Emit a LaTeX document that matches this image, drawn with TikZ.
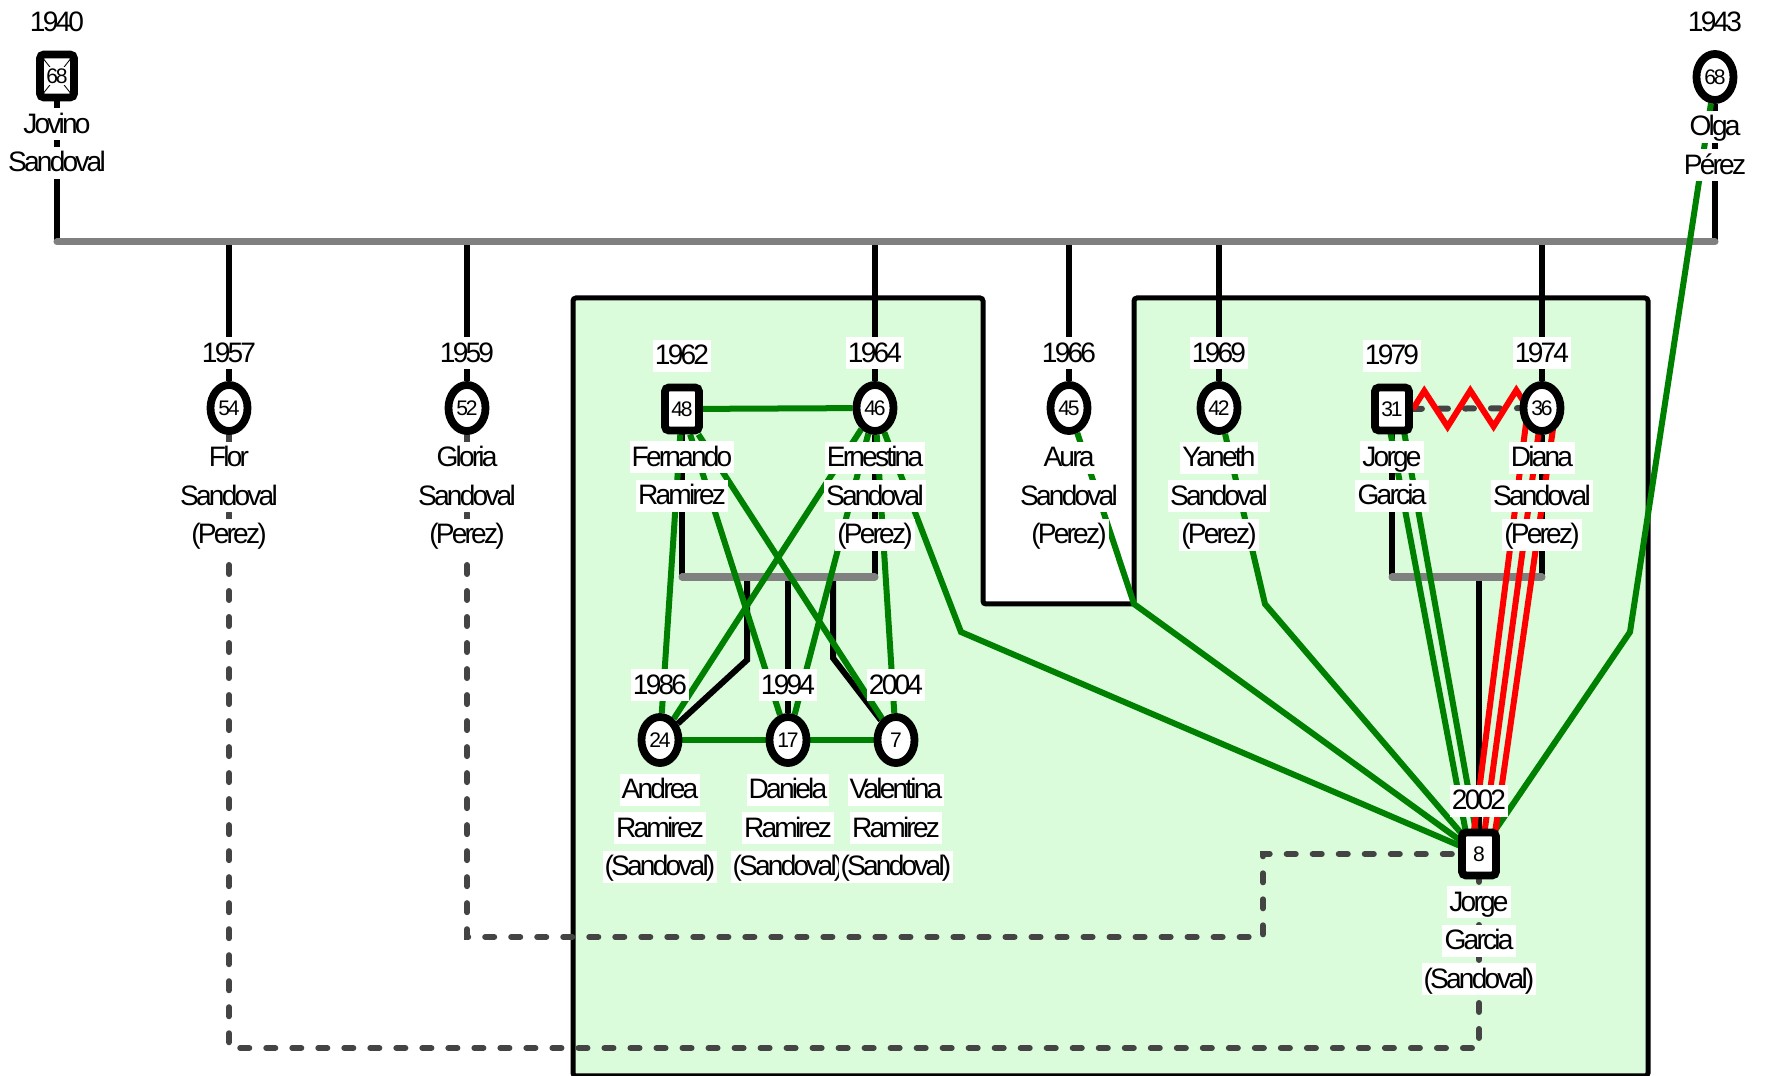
\documentclass[tikz,border=0pt]{standalone}
\usepackage{fontspec}
\setmainfont{Liberation Sans}[LetterSpace=-10]
\usetikzlibrary{positioning, shapes.geometric, decorations.pathmorphing}

\definecolor{famgreen}{RGB}{0,128,0}
\definecolor{household}{RGB}{218,252,218}
\definecolor{bargray}{RGB}{128,128,128}
\definecolor{fargray}{RGB}{68,68,68}

\pgfdeclarelayer{back}
\pgfdeclarelayer{links}
\pgfsetlayers{back,links,main}

% white strip behind one line of text
\newcommand{\wb}[1]{{\setlength{\fboxsep}{0pt}\colorbox{white}{\rule[-0.25em]{0pt}{1.15em}\hspace{0.6pt}#1\hspace{0.6pt}}}}
\newcommand{\nb}[1]{{\setlength{\fboxsep}{0.5pt}\colorbox{white}{#1}}}

\begin{document}
\begin{tikzpicture}[x=0.01cm, y=-0.01cm,
    male/.style={
        rectangle, draw, fill=white, line width=0.78mm, rounded corners=0.4mm,
        minimum width=3.4mm, minimum height=4.3mm, inner sep=0pt,
        font=\fontsize{6}{6.5}\selectfont
    },
    female/.style={
        ellipse, draw, fill=white, line width=0.78mm,
        minimum width=3.7mm, minimum height=4.6mm, inner sep=0pt,
        font=\fontsize{6}{6.5}\selectfont
    },
    dead/.style={path picture={
        \draw[line width=0.25pt] (path picture bounding box.north west) -- (path picture bounding box.south east)
            (path picture bounding box.north east) -- (path picture bounding box.south west);}},
    year/.style={fill=white, inner xsep=0.6pt, inner ysep=0pt, text height=7.2pt, text depth=2pt,
        font=\fontsize{8}{10.95}\selectfont},
    nametag/.style={inner sep=0pt, align=center, font=\fontsize{8}{10.95}\selectfont},
    tie/.style={line width=0.6mm},
    bar/.style={draw=bargray, line width=0.7mm, line cap=round},
    bond/.style={draw=famgreen, line width=0.6mm},
    hostile/.style={draw=red, line width=0.6mm},
    distant/.style={draw=fargray, line width=0.6mm, dash pattern=on 0.9mm off 1.7mm, line cap=round},
    home/.style={draw, fill=household, line width=0.5mm, rounded corners=0.3mm}
]
\useasboundingbox (0,0) rectangle (1771,1076);

% Grandparents
\node[male, dead] (jov) at (57,76) {\nb{68}};
\node[female] (olg) at (1715,77) {68};

% Their daughters and the two partners
\node[female] (flo) at (229,408) {54};
\node[female] (glo) at (467,408) {52};
\node[male] (fer) at (682,409) {48};
\node[female] (ern) at (875,408) {46};
\node[female] (aur) at (1069,408) {45};
\node[female] (yan) at (1219,408) {42};
\node[male] (gar) at (1392,409) {31};
\node[female] (dia) at (1542,408) {36};

% Grandchildren
\node[female] (and) at (660,740) {24};
\node[female] (dan) at (788,740) {17};
\node[female] (val) at (896,740) {7};
\node[male] (jor) at (1479,854) {8};

% Birth years
\node[year, above=1.1mm of jov] (jovy) {1940};
\node[year, above=1.1mm of olg] (olgy) {1943};
\node[year, above=1.1mm of flo] (floy) {1957};
\node[year, above=1.1mm of glo] (gloy) {1959};
\node[year, above=1.1mm of fer] (fery) {1962};
\node[year, above=1.1mm of ern] (erny) {1964};
\node[year, above=1.1mm of aur] (aury) {1966};
\node[year, above=1.1mm of yan] (yany) {1969};
\node[year, above=1.1mm of gar] (gary) {1979};
\node[year, above=1.1mm of dia] (diay) {1974};
\node[year, above=1.1mm of and] (andy) {1986};
\node[year, above=1.1mm of dan] (dany) {1994};
\node[year, above=1.1mm of val] (valy) {2004};
\node[year, above=1.1mm of jor] (jory) {2002};

% Names
\node[nametag, below=0.6mm of jov] (jovn) {\wb{Jovino}\\\wb{Sandoval}};
\node[nametag, below=0.6mm of olg] (olgn) {\wb{Olga}\\\wb{Pérez}};
\node[nametag, below=0.6mm of flo] (flon) {\wb{Flor}\\\wb{Sandoval}\\\wb{(Perez)}};
\node[nametag, below=0.6mm of glo] (glon) {\wb{Gloria}\\\wb{Sandoval}\\\wb{(Perez)}};
\node[nametag, below=0.6mm of fer] (fern) {\wb{Fernando}\\\wb{Ramirez}};
\node[nametag, below=0.6mm of ern] (ernn) {\wb{Ernestina}\\\wb{Sandoval}\\\wb{(Perez)}};
\node[nametag, below=0.6mm of aur] (aurn) {\wb{Aura}\\\wb{Sandoval}\\\wb{(Perez)}};
\node[nametag, below=0.6mm of yan] (yann) {\wb{Yaneth}\\\wb{Sandoval}\\\wb{(Perez)}};
\node[nametag, below=0.6mm of gar] (garn) {\wb{Jorge}\\\wb{Garcia}};
\node[nametag, below=0.6mm of dia] (dian) {\wb{Diana}\\\wb{Sandoval}\\\wb{(Perez)}};
\node[nametag, below=0.6mm of and] (andn) {\wb{Andrea}\\\wb{Ramirez}\\\wb{(Sandoval)}};
\node[nametag, below=0.6mm of dan] (dann) {\wb{Daniela}\\\wb{Ramirez}\\\wb{(Sandoval)}};
\node[nametag, below=0.6mm of val] (valn) {\wb{Valentina}\\\wb{Ramirez}\\\wb{(Sandoval)}};
\node[nametag, below=0.6mm of jor] (jorn) {\wb{Jorge}\\\wb{Garcia}\\\wb{(Sandoval)}};

% Shared household
\begin{pgfonlayer}{back}
\draw[home] (573,298) -- (983,298) -- (983,604) -- (1134,604) -- (1134,298)
    -- (1648,298) -- (1648,1076) -- (573,1076) -- cycle;
\end{pgfonlayer}

\begin{pgfonlayer}{links}
% Descent lines
\coordinate (top) at (0,242);
\coordinate (mid) at (0,577);
\draw[tie] (jov) -- (jov |- top);
\draw[tie] (olg) -- (olg |- top);
\foreach \k in {flo,glo,ern,aur,yan,dia}
    \draw[tie] (\k |- top) -- (\k);
\draw[bar] (jov |- top) -- (olg |- top);

\coordinate (ka) at (747,577);
\coordinate (kb) at (747,660);
\coordinate (kc) at (833,577);
\coordinate (kd) at (833,658);
\draw[tie] (fer) -- (fer |- mid);
\draw[tie] (ern) -- (ern |- mid);
\draw[tie] (ka) -- (kb) -- (and);
\draw[tie] (dan |- mid) -- (dan);
\draw[tie] (kc) -- (kd) -- (val);
\draw[bar] (fer |- mid) -- (ern |- mid);

\draw[tie] (gar) -- (gar |- mid);
\draw[tie] (dia) -- (dia |- mid);
\draw[tie] (jor |- mid) -- (jor);
\draw[bar] (gar |- mid) -- (dia |- mid);

% Distant ties
\coordinate (fa) at (229,1048);
\coordinate (fb) at (1479,1048);
\coordinate (ga) at (467,937);
\coordinate (gb) at (1263,937);
\coordinate (gc) at (1263,854);
\draw[distant] (flo) -- (fa) -- (fb) -- (jor);
\draw[distant] (glo) -- (ga) -- (gb) -- (gc) -- (jor);
\draw[distant] (gar) -- (dia);

% Close ties
\coordinate (e1) at (961,632);
\coordinate (e2) at (1134,604);
\coordinate (e3) at (1265,604);
\coordinate (e4) at (1630,632);
\draw[bond] (fer) -- (ern);
\draw[bond] (and) -- (dan) -- (val);
\foreach \p in {fer,ern}
    \foreach \c in {and,dan,val}
        \draw[bond] (\p) -- (\c);
\draw[bond] (ern) -- (e1) -- (jor.center);
\draw[bond] (aur) -- (e2) -- (jor.center);
\draw[bond] (yan) -- (e3) -- (jor.center);
\draw[bond] (olg) -- (e4) -- (jor.center);
\draw[bond] ([xshift=-0.6mm]gar.center) -- ([xshift=-0.9mm]jor.center);
\draw[bond] ([xshift=0.8mm]gar.center) -- ([xshift=0.1mm]jor.center);

% Hostile ties
\draw[hostile] ([xshift=-1.4mm]dia.center) -- ([xshift=-0.8mm]jor.center);
\draw[hostile] (dia.center) -- ([xshift=0.25mm]jor.center);
\draw[hostile] ([xshift=1.4mm]dia.center) -- ([xshift=1.3mm]jor.center);
\draw[hostile, decorate, decoration={zigzag, segment length=4.6mm, amplitude=1.8mm}]
    (gar.east) -- (dia.center);
\end{pgfonlayer}

\end{tikzpicture}
\end{document}
